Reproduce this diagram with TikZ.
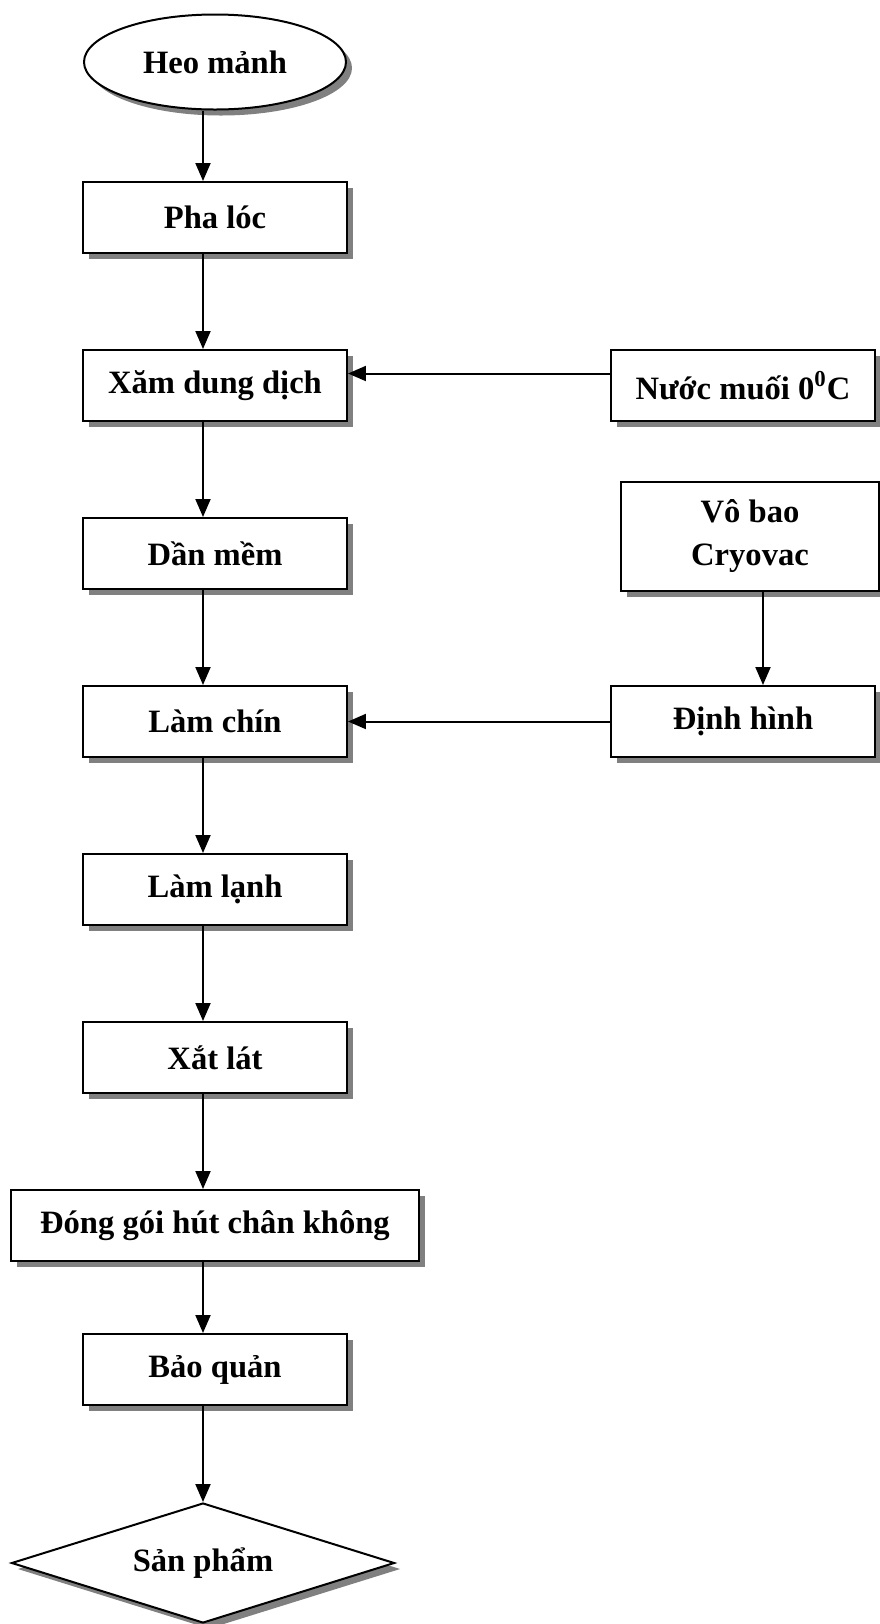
\documentclass[tikz,border=0pt]{standalone}
\usepackage{fontspec}
\setmainfont{Liberation Serif}
\usetikzlibrary{arrows.meta,positioning,shapes.geometric,shadows}

\begin{document}
\begin{tikzpicture}[
  font=\fontsize{16.3}{21.5}\selectfont\bfseries,
  node distance=47.5pt,
  boxshadow/.style={drop shadow={shadow xshift=3pt, shadow yshift=-3pt, fill=black!50, opacity=1}},
  box/.style={rectangle, draw, line width=1pt, fill=white, boxshadow, minimum width=132pt, minimum height=35.5pt, inner sep=2pt, align=center},
  start/.style={ellipse, draw, line width=1pt, fill=white, boxshadow, minimum width=131pt, minimum height=47.5pt, inner sep=0pt},
  finish/.style={diamond, aspect=3.2, draw, line width=1pt, fill=white, boxshadow, minimum width=191.5pt, minimum height=60pt, inner sep=0pt},
  arr/.style={-{Triangle[length=9pt,width=7.5pt]}, line width=1pt},
]
\useasboundingbox (-107.5pt,31pt) rectangle (332pt,-781pt);

% main line
\node[start] (heo) {Heo mảnh};
\node[box, below=35.25pt of heo] (phaloc) {Pha lóc};
\node[box, below=of phaloc] (xam) {Xăm dung dịch};
\node[box, below=of xam] (danmem) {Dần mềm};
\node[box, below=of danmem] (lamchin) {Làm chín};
\node[box, below=of lamchin] (lamlanh) {Làm lạnh};
\node[box, below=of lamlanh] (xatlat) {Xắt lát};
\node[box, minimum width=204pt, below=of xatlat] (donggoi) {Đóng gói hút chân không};
\node[box, below=35.5pt of donggoi] (baoquan) {Bảo quản};
\node[finish, below=48pt of baoquan, xshift=-6pt] (sanpham) {Sản phẩm};

% side inputs
\node[box, right=131pt of xam] (nuocmuoi) {Nước muối 0\textsuperscript{0}C};
\node[box, right=131pt of lamchin] (dinhhinh) {Định hình};
\node[box, minimum width=129pt, minimum height=54.5pt, above=46.5pt of dinhhinh, xshift=3.5pt] (vobao) {Vô bao\\Cryovac};

\draw[arr] ([xshift=-6pt]heo.south) -- ([xshift=-6pt]phaloc.north);
\draw[arr] ([xshift=-6pt]phaloc.south) -- ([xshift=-6pt]xam.north);
\draw[arr] ([xshift=-6pt]xam.south) -- ([xshift=-6pt]danmem.north);
\draw[arr] ([xshift=-6pt]danmem.south) -- ([xshift=-6pt]lamchin.north);
\draw[arr] ([xshift=-6pt]lamchin.south) -- ([xshift=-6pt]lamlanh.north);
\draw[arr] ([xshift=-6pt]lamlanh.south) -- ([xshift=-6pt]xatlat.north);
\draw[arr] ([xshift=-6pt]xatlat.south) -- ([xshift=-6pt]donggoi.north);
\draw[arr] ([xshift=-6pt]donggoi.south) -- ([xshift=-6pt]baoquan.north);
\draw[arr] ([xshift=-6pt]baoquan.south) -- (sanpham.north);
\draw[arr] ([yshift=6pt]nuocmuoi.west) -- ([yshift=6pt]xam.east);
\draw[arr] (dinhhinh.west) -- (lamchin.east);
\draw[arr] ([xshift=10pt]dinhhinh.north |- vobao.south) -- ([xshift=10pt]dinhhinh.north);
\end{tikzpicture}
\end{document}
